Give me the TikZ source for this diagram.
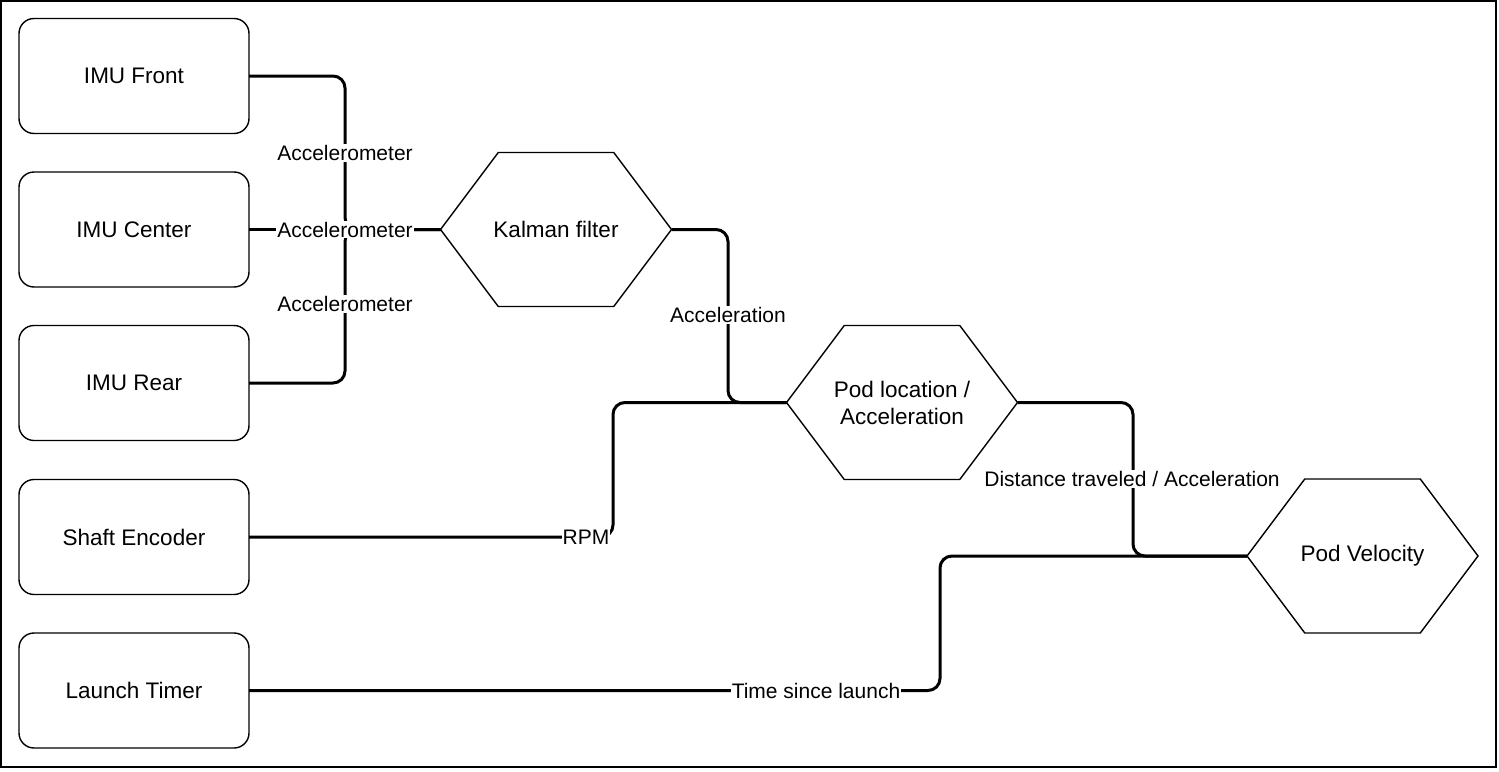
\documentclass[tikz,border=0pt]{standalone}
\usepackage{fontspec}
\setmainfont{Liberation Sans}
\begin{document}
\begin{tikzpicture}[x=1pt,y=-1pt,
  box/.style={draw,line width=1.4pt,rounded corners=15pt,minimum width=230pt,minimum height=115pt,outer sep=0pt,font=\fontsize{22.5}{27}\selectfont},
  hexnode/.style={minimum width=231pt,minimum height=154pt,outer sep=0pt,inner sep=0pt,align=center,font=\fontsize{22.5}{27}\selectfont},
  hexline/.style={line width=1.4pt,line join=miter},
  conn/.style={line width=3pt,rounded corners=12pt},
  lbl/.style={fill=white,inner sep=1pt,font=\fontsize{21}{25}\selectfont}]
\useasboundingbox (0,0) rectangle (1499,771);
\draw[line width=1.5pt] (1,1) rectangle (1496,767);

% left boxes
\node[box] (imuf) at (134,76) {IMU Front};
\node[box] (imuc) at (134,229.5) {IMU Center};
\node[box] (imur) at (134,383) {IMU Rear};
\node[box] (shaft) at (134,537) {Shaft Encoder};
\node[box] (launch) at (134,690.5) {Launch Timer};

% hexagons
\node[hexnode] (kal) at (556,229.5) {Kalman filter};
\node[hexnode] (pod) at (902,402.5) {Pod location /\\Acceleration};
\node[hexnode] (vel) at (1362.5,556) {Pod Velocity};

\newcommand\hexdraw[1]{\draw[hexline] (#1.west) -- ([xshift=57.75pt]#1.north west) -- ([xshift=-57.75pt]#1.north east) -- (#1.east) -- ([xshift=-57.75pt]#1.south east) -- ([xshift=57.75pt]#1.south west) -- cycle;}
\hexdraw{kal}
\hexdraw{pod}
\hexdraw{vel}

% junction coordinates
\coordinate (j1) at (345,229.5);
\coordinate (j2) at (728,402.5);
\coordinate (j3) at (613,402.5);
\coordinate (j4) at (1133,556);
\coordinate (j5) at (940,556);

% connectors
\draw[conn] (imuf.east) -| (j1) -- (kal.west);
\draw[conn] (imur.east) -| (j1) -- (kal.west);
\draw[conn] (imuc.east) -- (kal.west);
\draw[conn] (kal.east) -| (j2) -- (pod.west);
\draw[conn] (shaft.east) -| (j3) -- (pod.west);
\draw[conn] (pod.east) -| (j4) -- (vel.west);
\draw[conn] (launch.east) -| (j5) -- (vel.west);

% labels
\node[lbl] (l1) at (345,153) {Accelerometer};
\node[lbl] (l2) at (345,229.5) {Accelerometer};
\node[lbl] (l3) at (345,304) {Accelerometer};
\node[lbl] (l4) at (728,315) {Acceleration};
\node[lbl] (l5) at (586,537) {RPM};
\node[lbl] (l6) at (1132,479) {Distance traveled / Acceleration};
\node[lbl] (l7) at (816,690.5) {Time since launch};
\end{tikzpicture}
\end{document}
